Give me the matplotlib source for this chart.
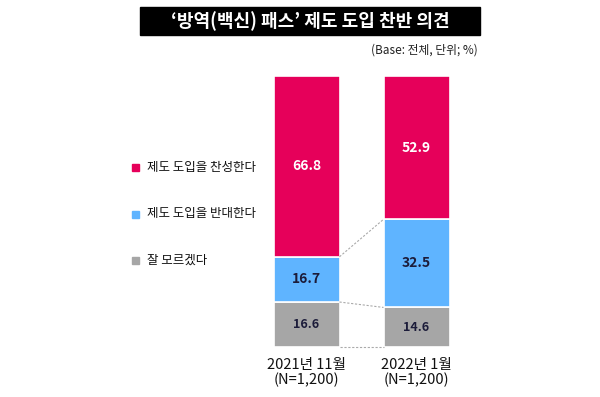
import matplotlib.pyplot as plt
from matplotlib.patches import Rectangle

plt.rcParams['font.family'] = ['Noto Sans CJK KR', 'DejaVu Sans']

categories = ["2021년 11월\n(N=1,200)", "2022년 1월\n(N=1,200)"]
series_names = ["제도 도입을 찬성한다", "제도 도입을 반대한다", "잘 모르겠다"]
agree = [66.8, 52.9]
oppose = [16.7, 32.5]
dunno = [16.6, 14.6]
colors = ["#E6005A", "#5FB4FF", "#A6A6A6"]

fig = plt.figure(figsize=(6, 3.97), dpi=100)

# title bar
fig.patches.append(Rectangle((140 / 600, 1 - 35 / 397), 340 / 600, 28 / 397,
                             transform=fig.transFigure, color="black", zorder=0))
fig.text(310 / 600, 1 - 21 / 397, "‘방역(백신) 패스’ 제도 도입 찬반 의견", color="white",
         fontsize=13, fontweight="bold", ha="center", va="center")
fig.text(478 / 600, 1 - 50 / 397, "(Base: 전체, 단위; %)", fontsize=8.5,
         ha="right", va="center", color="#222222")

ax = fig.add_axes([251.5 / 600, 1 - 347 / 397, 220 / 600, 271 / 397])
x = [0, 1]
w = 0.6
bottom_oppose = dunno
bottom_agree = [d + o for d, o in zip(dunno, oppose)]
ax.bar(x, dunno, w, color=colors[2], edgecolor="white", linewidth=1.2)
ax.bar(x, oppose, w, bottom=bottom_oppose, color=colors[1], edgecolor="white", linewidth=1.2)
ax.bar(x, agree, w, bottom=bottom_agree, color=colors[0], edgecolor="white", linewidth=1.2)

# connector lines
for lvl in [[0, 0], dunno, bottom_agree]:
    ax.plot([x[0] + w / 2, x[1] - w / 2], lvl, ls=(0, (2, 1.5)), color="#AAAAAA",
            lw=0.8, clip_on=False)

navy = "#1C1C3A"
for i in x:
    ax.text(i, bottom_agree[i] + agree[i] / 2, f"{agree[i]:.1f}", ha="center", va="center",
            color="white", fontsize=10, fontweight="bold")
    ax.text(i, bottom_oppose[i] + oppose[i] / 2, f"{oppose[i]:.1f}", ha="center", va="center",
            color=navy, fontsize=10, fontweight="bold")
    ax.text(i, dunno[i] / 2, f"{dunno[i]:.1f}", ha="center", va="center",
            color=navy, fontsize=9, fontweight="bold")
    ax.text(i, -4, categories[i], ha="center", va="top", fontsize=10.5,
            color="#111111", linespacing=1.1)

ax.set_xlim(-0.5, 1.5)
ax.set_ylim(0, 100)
ax.axis("off")

# legend
leg_y = [167, 214, 260]
for name, c, yy in zip(series_names, colors, leg_y):
    fig.patches.append(Rectangle((132 / 600, 1 - (yy + 3.5) / 397), 7 / 600, 7 / 397,
                                 transform=fig.transFigure, color=c))
    fig.text(147 / 600, 1 - yy / 397, name, fontsize=9, va="center", color="#111111")

fig.savefig("out.png", dpi=100)
